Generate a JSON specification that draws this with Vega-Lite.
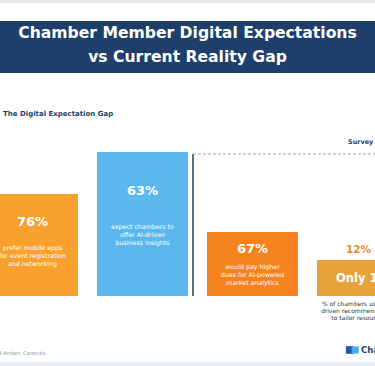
{
  "$schema": "https://vega.github.io/schema/vega-lite/v6.json",
  "padding": 0,
  "background": "white",
  "spacing": 0,
  "bounds": "flush",
  "config": {"view": {"stroke": null}, "font": "DejaVu Sans"},
  "vconcat": [
    {
      "width": 375, "height": 3,
      "view": {"fill": "#E8EBF0", "stroke": null},
      "data": {"values": []},
      "mark": {"type": "text"},
      "encoding": {"text": {"field": "t"}}
    },
    {
      "width": 375, "height": 18,
      "view": {"fill": "white", "stroke": null},
      "data": {"values": []},
      "mark": {"type": "text"},
      "encoding": {"text": {"field": "t"}}
    },
    {
      "width": 375, "height": 52,
      "view": {"fill": "#1D3F6A", "stroke": null},
      "data": {"values": [{"title": "Chamber Member Digital Expectations\nvs Current Reality Gap"}]},
      "mark": {"type": "text", "lineBreak": "\n", "lineHeight": 24, "baseline": "middle", "align": "center", "dy": -14, "fontSize": 15.6, "fontWeight": "bold", "color": "white"},
      "encoding": {"text": {"field": "title"}}
    },
    {
      "width": 375, "height": 289,
      "view": {"fill": "white", "stroke": null},
      "title": {"text": "The Digital Expectation Gap", "anchor": "start", "offset": -48, "baseline": "middle", "dx": 3, "fontSize": 7, "font": "DejaVu Sans", "fontWeight": "bold", "color": "#1E3F66"},
      "data": {"values": [
        {"item": "A", "h": 102, "pct": "76%", "desc": "prefer mobile apps\nfor event registration\nand networking"},
        {"item": "B", "h": 144, "pct": "63%", "desc": "expect chambers to\noffer AI-driven\nbusiness insights"},
        {"item": "C", "h": 64, "pct": "67%", "desc": "would pay higher\ndues for AI-powered\nmarket analytics"},
        {"item": "D", "h": 36, "pct": "12%", "callout": "Only 12%", "desc": "% of chambers using AI-\ndriven recommendations\nto tailor resources"}
      ]},
      "resolve": {"scale": {"y": "independent"}},
      "layer": [
        {
          "mark": {"type": "bar", "clip": true},
          "encoding": {
            "x": {"field": "item", "type": "nominal", "axis": null, "scale": {"domain": ["A", "B", "C", "D"], "range": [-13, 408], "paddingInner": 0.173, "paddingOuter": 0}},
            "y": {"field": "h", "type": "quantitative", "axis": null, "scale": {"domain": [-66, 223], "nice": false, "zero": false}},
            "y2": {"datum": 0},
            "color": {"field": "item", "type": "nominal", "legend": null, "scale": {"domain": ["A", "B", "C", "D"], "range": ["#F8A12F", "#5AB8EE", "#F6831F", "#E7A33A"]}}
          }
        },
        {
          "transform": [{"filter": "datum.item != 'D'"}],
          "mark": {"type": "text", "clip": true, "fontSize": 13, "fontWeight": "bold", "color": "white", "baseline": "middle", "align": "center"},
          "encoding": {
            "x": {"field": "item", "type": "nominal", "axis": null},
            "y": {"field": "h", "type": "quantitative", "axis": null, "scale": {"domain": [-90.41, 305.48], "nice": false, "zero": false}},
            "text": {"field": "pct"}
          }
        },
        {
          "transform": [{"filter": "datum.item != 'D'"}],
          "mark": {"type": "text", "clip": true, "fontSize": 6.3, "lineHeight": 8, "lineBreak": "\n", "color": "white", "baseline": "middle", "align": "center", "dy": 3},
          "encoding": {
            "x": {"field": "item", "type": "nominal", "axis": null},
            "y": {"field": "h", "type": "quantitative", "axis": null, "scale": {"domain": [-132, 446], "nice": false, "zero": false}},
            "text": {"field": "desc"}
          }
        },
        {
          "transform": [{"filter": "datum.item == 'D'"}],
          "mark": {"type": "text", "clip": true, "fontSize": 10.5, "fontWeight": "bold", "color": "#F08A28", "baseline": "middle", "align": "center", "dy": -10, "dx": -4},
          "encoding": {
            "x": {"field": "item", "type": "nominal", "axis": null},
            "y": {"field": "h", "type": "quantitative", "axis": null, "scale": {"domain": [-66, 223], "nice": false, "zero": false}},
            "text": {"field": "pct"}
          }
        },
        {
          "transform": [{"filter": "datum.item == 'D'"}],
          "mark": {"type": "text", "clip": true, "fontSize": 11.5, "fontWeight": "bold", "color": "white", "baseline": "middle", "align": "center", "dy": 19, "dx": 4},
          "encoding": {
            "x": {"field": "item", "type": "nominal", "axis": null},
            "y": {"field": "h", "type": "quantitative", "axis": null, "scale": {"domain": [-66, 223], "nice": false, "zero": false}},
            "text": {"field": "callout"}
          }
        },
        {
          "transform": [{"filter": "datum.item == 'D'"}],
          "mark": {"type": "text", "clip": true, "fontSize": 6, "lineHeight": 7, "lineBreak": "\n", "color": "#333333", "baseline": "top", "align": "center", "dy": 5, "dx": -4},
          "encoding": {
            "x": {"field": "item", "type": "nominal", "axis": null},
            "y": {"datum": 0, "type": "quantitative", "axis": null, "scale": {"domain": [-66, 223], "nice": false, "zero": false}},
            "text": {"field": "desc"}
          }
        },
        {
          "transform": [{"filter": "datum.item == 'B'"}],
          "mark": {"type": "rule", "clip": true, "color": "#1E3F6E", "strokeWidth": 1.5, "yOffset": 2},
          "encoding": {
            "x": {"field": "item", "type": "nominal", "axis": null, "bandPosition": 1.055},
            "y": {"field": "h", "type": "quantitative", "axis": null, "scale": {"domain": [-66, 223], "nice": false, "zero": false}},
            "y2": {"datum": 0}
          }
        },
        {
          "transform": [{"filter": "datum.item == 'B'"}],
          "mark": {"type": "rule", "clip": true, "color": "#9AA8B8", "strokeWidth": 1, "strokeDash": [3, 2], "yOffset": 2, "x2Offset": 60},
          "encoding": {
            "x": {"field": "item", "type": "nominal", "axis": null, "bandPosition": 1.055},
            "x2": {"datum": "D"},
            "y": {"field": "h", "type": "quantitative", "axis": null, "scale": {"domain": [-66, 223], "nice": false, "zero": false}}
          }
        },
        {
          "transform": [{"filter": "datum.item == 'B'"}],
          "mark": {"type": "text", "clip": true, "fontSize": 6.5, "fontWeight": "bold", "color": "#1E3F66", "baseline": "middle", "align": "left", "dy": -10},
          "encoding": {
            "x": {"datum": "D", "type": "nominal", "axis": null, "bandPosition": 0.34},
            "y": {"field": "h", "type": "quantitative", "axis": null, "scale": {"domain": [-66, 223], "nice": false, "zero": false}},
            "text": {"value": "Survey Data"}
          }
        },
        {
          "transform": [{"filter": "datum.item == 'A'"}],
          "mark": {"type": "text", "clip": true, "fontSize": 5, "color": "#8A8A8A", "baseline": "middle", "align": "right"},
          "encoding": {
            "x": {"datum": "A", "type": "nominal", "axis": null, "bandPosition": 0.659},
            "y": {"datum": -57, "type": "quantitative", "axis": null, "scale": {"domain": [-66, 223], "nice": false, "zero": false}},
            "text": {"value": "Sources: Nelle8 Amber, Carrectis."}
          }
        },
        {
          "transform": [{"filter": "datum.item == 'A'"}],
          "mark": {"type": "point", "clip": true, "shape": "square", "filled": true, "size": 60, "color": "#1F5BA6", "opacity": 1},
          "encoding": {
            "x": {"datum": "D", "type": "nominal", "axis": null, "bandPosition": 0.36},
            "y": {"datum": -54, "type": "quantitative", "axis": null, "scale": {"domain": [-66, 223], "nice": false, "zero": false}}
          }
        },
        {
          "transform": [{"filter": "datum.item == 'A'"}],
          "mark": {"type": "point", "clip": true, "shape": "square", "filled": true, "size": 50, "color": "#45AEE8", "opacity": 1},
          "encoding": {
            "x": {"datum": "D", "type": "nominal", "axis": null, "bandPosition": 0.42},
            "y": {"datum": -54, "type": "quantitative", "axis": null, "scale": {"domain": [-66, 223], "nice": false, "zero": false}}
          }
        },
        {
          "transform": [{"filter": "datum.item == 'A'"}],
          "mark": {"type": "text", "clip": true, "fontSize": 8.5, "fontWeight": "bold", "color": "#1E3F66", "baseline": "middle", "align": "left"},
          "encoding": {
            "x": {"datum": "D", "type": "nominal", "axis": null, "bandPosition": 0.484},
            "y": {"datum": -54, "type": "quantitative", "axis": null, "scale": {"domain": [-66, 223], "nice": false, "zero": false}},
            "text": {"value": "Chamber AI"}
          }
        }
      ]
    },
    {
      "width": 375, "height": 4,
      "view": {"fill": "#E8EBF0", "stroke": null},
      "data": {"values": []},
      "mark": {"type": "text"},
      "encoding": {"text": {"field": "t"}}
    }
  ]
}
